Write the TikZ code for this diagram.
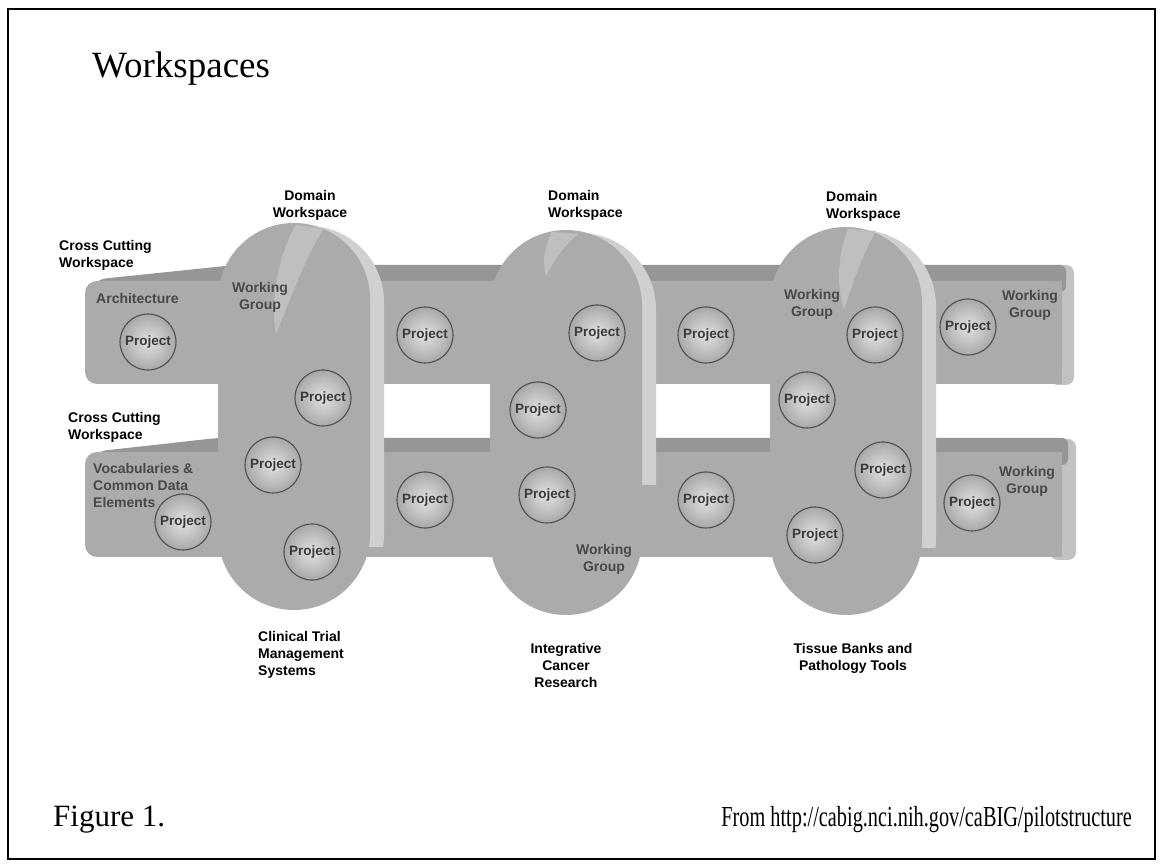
\documentclass[tikz,border=0pt]{standalone}
\usepackage{fontspec}
\setmainfont{Liberation Serif}
\setsansfont{Liberation Sans}
\usepackage{graphicx}
\definecolor{facegrey}{RGB}{171,171,171}
\definecolor{topgrey}{RGB}{150,150,150}
\definecolor{sidegrey}{RGB}{208,208,208}
\definecolor{endgrey}{RGB}{194,194,194}
\definecolor{labgrey}{RGB}{72,72,72}
\definecolor{ringgrey}{RGB}{80,80,80}
\definecolor{projin}{RGB}{226,226,226}
\definecolor{projout}{RGB}{168,168,168}
\tikzset{
  lbl/.style={font=\sffamily\bfseries\fontsize{14}{17}\selectfont, inner sep=0pt},
  inlbl/.style={lbl, text=labgrey},
  project/.style={circle, draw=ringgrey, line width=1.1pt, minimum size=56pt, inner sep=0pt,
    inner color=projin, outer color=projout, text=labgrey!80!black,
    font=\sffamily\bfseries\fontsize{13.5}{16}\selectfont},
  bartop/.style={fill=topgrey},
  barfront/.style={fill=facegrey},
  barend/.style={fill=endgrey, rounded corners=8pt},
  colside/.style={fill=sidegrey, rounded corners=76pt},
  colface/.style={fill=facegrey, rounded corners=76pt},
  crescent/.style={fill=sidegrey!55!facegrey},
}
\begin{document}
\begin{tikzpicture}[x=1pt, y=-1pt]
\useasboundingbox (0,0) rectangle (1163,866);
\draw[line width=2pt] (8,9) rectangle (1155,859);

\fill[barend] (1050,265) rectangle (1074,385);
\fill[bartop, rounded corners=6pt] (85,292) -- (100,279) -- (235,265) -- (1066,265) -- (1066,292) -- cycle;
\fill[barfront, rounded corners=12pt] (85,281) rectangle (1062,384);
\fill[barfront] (1000,281) rectangle (1062,384);

\fill[barend] (1050,439) rectangle (1076,560);
\fill[bartop, rounded corners=6pt] (85,465) -- (100,451) -- (217,438) -- (1068,438) -- (1068,465) -- cycle;
\fill[barfront, rounded corners=12pt] (85,452) rectangle (1062,557);
\fill[barfront] (1000,452) rectangle (1062,557);

\foreach \l/\t/\b/\s in {218/223/610/547, 490/230/615/485, 770/227/615/548}{
  \begin{scope}
    \clip (0,0) rectangle (1163,\s);
    \fill[colside] (\l+14,\t+3) rectangle (\l+166,\b);
  \end{scope}
  \fill[colface] (\l,\t) rectangle (\l+152,\b);
}
\fill[crescent] (296,225) .. controls (278,255) and (270,300) .. (276,334) .. controls (290,300) and (305,258) .. (324,228) -- cycle;
\fill[crescent] (552,232) .. controls (544,248) and (542,262) .. (546,276) .. controls (554,260) and (564,246) .. (578,234) -- cycle;
\fill[crescent] (848,229) .. controls (838,255) and (836,285) .. (844,310) .. controls (852,285) and (862,255) .. (876,231) -- cycle;

\foreach \n/\x/\y in {Arch/148/342, Ca/323/398, Cb/273/465, Voc/183/522, Cc/312/552,
    GapTa/425/335, GapLa/425/500, Da/597/333, Db/538/410, Dc/547/495,
    GapTb/706/335, GapLb/706/500, Ea/875/335, Eb/807/400, Ec/883/470, Ed/815/535,
    EndT/968/327, EndL/972/503}
  \node[project] (p\n) at (\x,\y) {Project};

\node[lbl, align=center] (dom1) at (310,205) {Domain\\Workspace};
\node[lbl, align=left, anchor=west] (dom2) at (548,205) {Domain\\Workspace};
\node[lbl, align=left, anchor=west] (dom3) at (826,206) {Domain\\Workspace};
\node[lbl, align=left, anchor=west] (cross1) at (59,255) {Cross Cutting\\Workspace};
\node[lbl, align=left, anchor=west] (cross2) at (68,427) {Cross Cutting\\Workspace};
\node[inlbl, anchor=west] (arch) at (96,298) {Architecture};
\node[inlbl, align=left, anchor=west] (vocab) at (93,485) {Vocabularies \&\\Common Data\\Elements};
\node[inlbl, align=center] (wg1) at (260,297) {Working\\Group};
\node[inlbl, align=center] (wg2) at (604,559) {Working\\Group};
\node[inlbl, align=center] (wg3) at (812,304) {Working\\Group};
\node[inlbl, align=center] (wg4) at (1030,305) {Working\\Group};
\node[inlbl, align=center] (wg5) at (1027,481) {Working\\Group};
\node[lbl, align=left, anchor=west] (ctms) at (258,655) {Clinical Trial\\Management\\Systems};
\node[lbl, align=center] (icr) at (566,665) {Integrative\\Cancer\\Research};
\node[lbl, align=center] (tbpt) at (853,658) {Tissue Banks and\\Pathology Tools};

\node[anchor=base west, inner sep=0pt, font=\fontsize{37}{44}\selectfont] (title) at (92,78) {Workspaces};
\node[anchor=base west, inner sep=0pt, font=\fontsize{31}{36}\selectfont] (fig) at (53,826) {Figure 1.};
\node[anchor=base east, inner sep=0pt, font=\fontsize{29}{34}\selectfont] (src) at (1132,826)
  {\scalebox{0.7}[1]{From http://cabig.nci.nih.gov/caBIG/pilotstructure}};
\end{tikzpicture}
\end{document}
